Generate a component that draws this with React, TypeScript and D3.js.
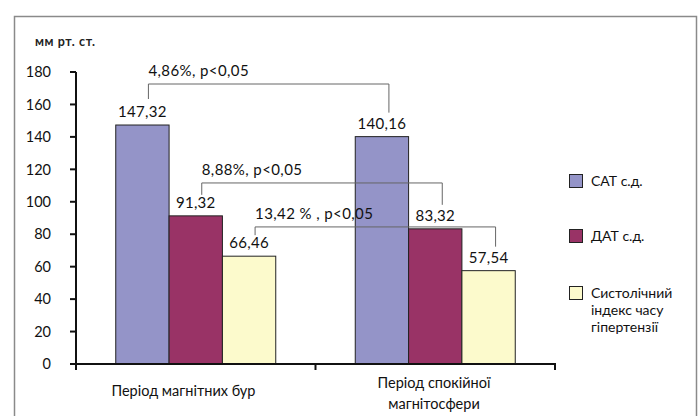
import React from "react";
import * as d3 from "d3";

const categories = ["Період магнітних бур", "Період спокійної магнітосфери"];
const categoryLines = [["Період магнітних бур"], ["Період спокійної", "магнітосфери"]];
const seriesNames = ["САТ с.д.", "ДАТ с.д.", "Систолічний індекс часу гіпертензії"];
const legendLines = [["САТ с.д."], ["ДАТ с.д."], ["Систолічний", "індекс часу", "гіпертензії"]];
const satValues = [147.32, 140.16];
const datValues = [91.32, 83.32];
const sitValues = [66.46, 57.54];
const yTicks = [0, 20, 40, 60, 80, 100, 120, 140, 160, 180];
// bracket level is in axis units
const comparisons = [
  { series: 0, label: "4,86%, p<0,05", level: 172.6 },
  { series: 1, label: "8,88%, p<0,05", level: 111.6 },
  { series: 2, label: "13,42 % , p<0,05", level: 84.5 },
];
const colors = ["#9494C8", "#993366", "#FCFACC"];

const W = 698;
const H = 416;
const FONT = "Lato, 'DejaVu Sans', sans-serif";

export default function App() {
  const series = [satValues, datValues, sitValues];
  const x0 = d3.scaleBand<string>().domain(categories).range([76, 555]);
  const groupW = 160;
  const x1 = d3.scaleBand<number>().domain([0, 1, 2]).range([0, groupW]);
  const barW = x1.bandwidth();
  const barX = (ci: number, si: number) =>
    (x0(categories[ci]) as number) + (x0.bandwidth() - groupW) / 2 + (x1(si) as number);
  const y = d3.scaleLinear().domain([0, 180]).range([364, 72]);

  return (
    <svg width={W} height={H} style={{ position: "absolute", left: 0, top: 0 }} fontFamily={FONT}>
      <rect x={0} y={0} width={W} height={H} fill="#fff" />
      <rect x={14.5} y={16.5} width={682} height={410} fill="#fff" stroke="#8a8a8a" strokeWidth={1.5} />

      <text x={35} y={46} fontSize={12.5} fontWeight={700} letterSpacing={0.6} fill="#222">
        мм рт. ст.
      </text>

      {/* y axis */}
      <line x1={76} x2={76} y1={72} y2={365} stroke="#111" strokeWidth={2} />
      {yTicks.map((t) => (
        <g key={t}>
          <line x1={70} x2={76} y1={y(t)} y2={y(t)} stroke="#111" strokeWidth={2} />
          <text x={51} y={y(t)} dy="0.36em" textAnchor="end" fontSize={14.5} fill="#111">
            {t}
          </text>
        </g>
      ))}

      {/* bars */}
      {series.map((vals, si) =>
        vals.map((v, ci) => (
          <rect
            key={`${si}-${ci}`}
            x={barX(ci, si)}
            y={y(v)}
            width={barW}
            height={y(0) - y(v)}
            fill={colors[si]}
            stroke="#222"
            strokeWidth={1}
          />
        ))
      )}

      {/* x axis */}
      <line x1={75} x2={556} y1={364} y2={364} stroke="#111" strokeWidth={2} />
      {[76, 315.5, 555].map((tx, i) => (
        <line key={i} x1={tx} x2={tx} y1={364} y2={370} stroke="#111" strokeWidth={2} />
      ))}

      {/* value labels */}
      {series.map((vals, si) =>
        vals.map((v, ci) => (
          <text
            key={`l${si}-${ci}`}
            x={barX(ci, si) + barW / 2}
            y={y(v) - 8}
            textAnchor="middle"
            fontSize={15}
            letterSpacing={0.3}
            fill="#111"
          >
            {v.toFixed(2).replace(".", ",")}
          </text>
        ))
      )}

      {/* significance brackets */}
      {comparisons.map((c, i) => {
        const v0 = series[c.series][0];
        const v1 = series[c.series][1];
        const xa = barX(0, c.series) + barW / 2 + 6;
        const xb = barX(1, c.series) + barW / 2 + 7;
        const yl = y(c.level);
        const ya = Math.min(y(v0) - 21, yl + 15);
        const yb = y(v1) - 24;
        return (
          <g key={i}>
            <path
              d={`M${xa},${ya}V${yl}H${xb}V${yb}`}
              fill="none"
              stroke="#666"
              strokeWidth={1}
            />
            <text x={xa} y={yl - 8} fontSize={15} letterSpacing={0.4} fill="#111">
              {c.label}
            </text>
          </g>
        );
      })}

      {/* category labels */}
      {categoryLines.map((lines, ci) => {
        const cx = ci === 0 ? 183.5 : 434;
        const y0 = lines.length === 1 ? 396 : 388;
        return (
          <text key={ci} textAnchor="middle" fontSize={14.5} fill="#111">
            {lines.map((l, k) => (
              <tspan key={k} x={cx} y={y0 + k * 21}>
                {l}
              </tspan>
            ))}
          </text>
        );
      })}

      {/* legend */}
      {legendLines.map((lines, si) => {
        const top = [174, 229, 286][si];
        return (
          <g key={si}>
            <title>{seriesNames[si]}</title>
            <rect x={569.5} y={top + 0.5} width={13} height={13} fill={colors[si]} stroke="#222" strokeWidth={1} />
            <text fontSize={14} fill="#111">
              {lines.map((l, k) => (
                <tspan key={k} x={591} y={top + 12 + k * 17}>
                  {l}
                </tspan>
              ))}
            </text>
          </g>
        );
      })}
    </svg>
  );
}
